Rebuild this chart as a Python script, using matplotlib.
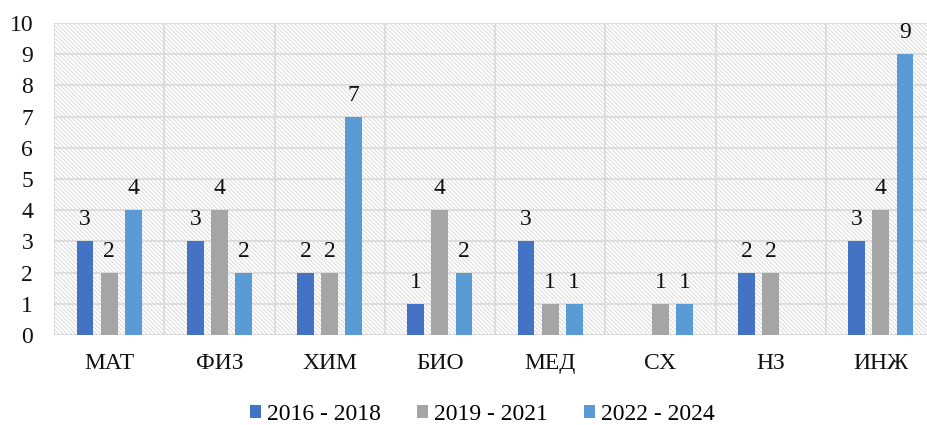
import matplotlib
matplotlib.use("Agg")
import matplotlib.pyplot as plt
import numpy as np

categories = ["МАТ", "ФИЗ", "ХИМ", "БИО", "МЕД", "СХ", "НЗ", "ИНЖ"]
series_names = ["2016 - 2018", "2019 - 2021", "2022 - 2024"]
s2016 = [3, 3, 2, 1, 3, 0, 2, 3]
s2019 = [2, 4, 2, 4, 1, 1, 2, 4]
s2022 = [4, 2, 7, 2, 1, 1, 0, 9]
colors = ["#4472C4", "#A5A5A5", "#5B9BD5"]

plt.rcParams['font.family'] = ['Liberation Serif', 'DejaVu Serif']
plt.rcParams['hatch.color'] = '#dadada'
plt.rcParams['hatch.linewidth'] = 0.7

FS = 17

fig = plt.figure(figsize=(9.27, 4.25), dpi=100)
ax = fig.add_axes([54/927, 90/425, 882/927, 312/425])

x = np.arange(len(categories))
ax.set_xlim(-0.5, len(categories) - 0.5)
ax.set_ylim(0, 10)

# hatched background
ax.add_patch(plt.Rectangle((0, 0), 1, 1, transform=ax.transAxes, facecolor='white',
                           edgecolor='#dadada', hatch='\\' * 8, linewidth=0, zorder=0))

width = 0.152
spacing = 0.218
for i, (vals, col, name) in enumerate(zip([s2016, s2019, s2022], colors, series_names)):
    pos = x + (i - 1) * spacing
    ax.bar(pos, vals, width=width, color=col, label=name, zorder=3)
    for p, v in zip(pos, vals):
        if v > 0:
            ax.annotate(str(v), (p, v), xytext=(0, 11.5), textcoords='offset points',
                        ha='center', va='baseline', fontsize=FS, color='#111111', zorder=4)

ax.set_yticks(range(0, 11))
ax.set_xticks(x)
ax.set_xticklabels(categories)
ax.set_xticks(np.arange(-0.5, len(categories), 1.0), minor=True)
ax.tick_params(axis='both', which='both', length=0, labelsize=FS, colors='#111111')
ax.tick_params(axis='y', pad=15)
ax.tick_params(axis='x', pad=13)
ax.grid(axis='y', which='major', color='#d9d9d9', linewidth=1.2, zorder=1)
ax.grid(axis='x', which='minor', color='#d9d9d9', linewidth=1.2, zorder=1)
ax.grid(axis='x', which='major', visible=False)
for s in ax.spines.values():
    s.set_visible(False)
ax.set_axisbelow(True)

fig.legend(loc='center', bbox_to_anchor=(482/927, 1 - 414/425), ncol=3, frameon=False,
           fontsize=FS, handlelength=0.47, handleheight=0.47, handletextpad=0.25,
           columnspacing=1.53, borderpad=0)

fig.savefig("out.png", dpi=100)
